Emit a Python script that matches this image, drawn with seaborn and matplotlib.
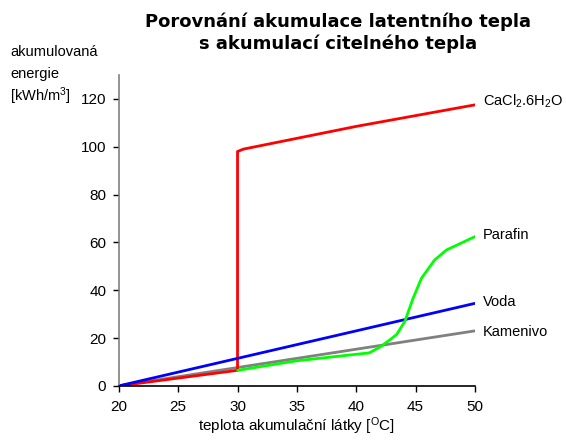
import numpy as np
import pandas as pd
import seaborn as sns
import matplotlib.pyplot as plt

# values
kamenivo_t = [20, 50]
kamenivo_e = [0, 23]

cacl_t = [20, 30, 30, 30.5, 40, 50]
cacl_e = [0, 6.5, 98, 99, 108.5, 117.5]

voda_t = [20, 50]
voda_e = [0, 34.5]

parafin_t = [30, 35, 41.1, 42.1, 43.4, 44.1, 44.8, 45.5, 46.6, 47.6, 50]
parafin_e = [6.5, 10.5, 13.8, 16.5, 21.4, 27, 36.7, 45, 52.6, 56.8, 62.4]

ylabel_lines = ["akumulovaná", "energie", "[kWh/m$^3$]"]

series = [
    ("Kamenivo", kamenivo_t, kamenivo_e, "#808080", 22.5),
    ("CaCl$_2$.6H$_2$O", cacl_t, cacl_e, "#ff0000", 119),
    ("Voda", voda_t, voda_e, "#0000ff", 35),
    ("Parafin", parafin_t, parafin_e, "#00ff00", 63),
]

sns.set_theme(style="white")
plt.rcParams['font.family'] = ['Liberation Sans', 'DejaVu Sans']
plt.rcParams['mathtext.fontset'] = 'custom'
plt.rcParams['mathtext.rm'] = 'Liberation Sans'
plt.rcParams['mathtext.it'] = 'Liberation Sans'
plt.rcParams['text.color'] = 'black'
plt.rcParams['axes.labelcolor'] = 'black'

fig = plt.figure(figsize=(5.66, 4.41), dpi=100)
ax = fig.add_axes([0.210, 0.125, 0.629, 0.705])

for name, t, e, color, label_y in series:
    df = pd.DataFrame({"t": t, "e": e})
    sns.lineplot(data=df, x="t", y="e", sort=False, estimator=None,
                 color=color, linewidth=2.0, ax=ax)
    ax.text(50.7, label_y, name, fontsize=10.5, va="center", ha="left",
            clip_on=False)

ax.set_xlim(20, 50)
ax.set_ylim(0, 130)
ax.set_xticks(np.arange(20, 51, 5))
ax.set_yticks(np.arange(0, 121, 20))
ax.tick_params(axis="both", direction="out", length=4, width=1,
               labelsize=11, colors="black", bottom=True, left=True)
ax.tick_params(axis="x", pad=6)
ax.tick_params(axis="y", pad=5)
for side in ["top", "right"]:
    ax.spines[side].set_visible(False)
ax.spines["left"].set_color("#808080")
ax.spines["bottom"].set_color("black")
ax.spines["left"].set_linewidth(1.2)
ax.spines["bottom"].set_linewidth(1.2)

ax.set_xlabel("teplota akumulační látky [$^{\\mathrm{O}}$C]", fontsize=11,
              labelpad=1)
ax.set_ylabel("")
for i, line in enumerate(ylabel_lines):
    fig.text(0.018, 0.882 - i * 0.05, line, fontsize=10.5,
             va="center", ha="left")

fig.text(0.597, 0.972, "Porovnání akumulace latentního tepla\ns akumulací citelného tepla",
         fontsize=13, fontweight="bold", ha="center", va="top",
         linespacing=1.25, family=["DejaVu Sans"])

fig.savefig("out.png", dpi=100)
